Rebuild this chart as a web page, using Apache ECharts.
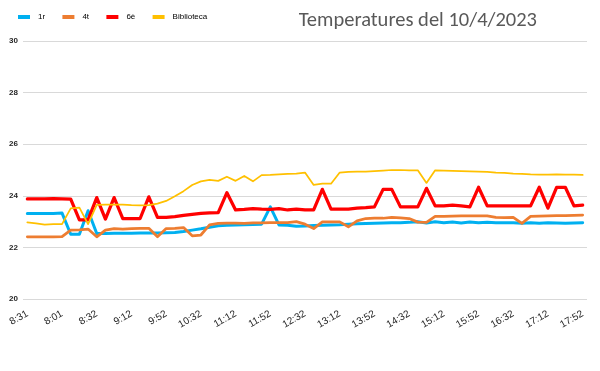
<!DOCTYPE html>
<html>
<head>
<meta charset="utf-8">
<script src="https://cdn.jsdelivr.net/npm/echarts@6/dist/echarts.min.js"></script>
<style>
html,body{margin:0;padding:0;background:#fff;}
#chart{width:600px;height:371px;}
</style>
</head>
<body>
<div id="chart"></div>
<script>
var titleText = "Temperatures del 10/4/2023";
var seriesNames = ["1r", "4t", "6è", "Biblioteca"];
var seriesColors = ["#00B0F0", "#ED7D31", "#FF0000", "#FFC000"];

var categories = ["8:31","7:41","7:48","7:54","8:01","8:09","8:17","8:24","8:32","8:42","8:52","9:02","9:12","9:22","9:32","9:42","9:52","10:02","10:12","10:22","10:32","10:42","10:52","11:02","11:12","11:22","11:32","11:42","11:52","12:02","12:12","12:22","12:32","12:42","12:52","13:02","13:12","13:22","13:32","13:42","13:52","14:02","14:12","14:22","14:32","14:42","14:52","15:02","15:12","15:22","15:32","15:42","15:52","16:02","16:12","16:22","16:32","16:42","16:52","17:02","17:12","17:22","17:32","17:42","17:52"];

var values1r = [23.31,23.31,23.31,23.31,23.33,22.51,22.51,23.42,22.54,22.54,22.55,22.55,22.55,22.56,22.56,22.56,22.57,22.58,22.62,22.67,22.72,22.78,22.84,22.86,22.87,22.88,22.89,22.90,23.57,22.87,22.86,22.82,22.83,22.85,22.86,22.87,22.88,22.90,22.92,22.93,22.94,22.95,22.96,22.96,22.97,22.99,22.95,22.99,22.96,22.98,22.95,22.98,22.96,22.97,22.96,22.96,22.96,22.94,22.96,22.94,22.96,22.95,22.94,22.95,22.96];

var values4t = [22.41,22.41,22.41,22.41,22.42,22.67,22.68,22.71,22.41,22.67,22.73,22.71,22.73,22.74,22.74,22.41,22.73,22.74,22.77,22.45,22.48,22.87,22.93,22.94,22.94,22.93,22.95,22.95,22.96,22.96,22.96,23.00,22.90,22.73,22.99,22.99,22.99,22.80,23.03,23.12,23.13,23.13,23.16,23.14,23.12,22.98,22.97,23.20,23.20,23.21,23.22,23.22,23.22,23.22,23.16,23.15,23.16,22.93,23.20,23.21,23.22,23.23,23.23,23.24,23.25];

var values6e = [23.88,23.88,23.88,23.89,23.88,23.87,23.07,23.07,23.93,23.10,23.93,23.12,23.12,23.12,23.96,23.16,23.16,23.19,23.24,23.28,23.32,23.34,23.35,24.12,23.45,23.47,23.50,23.48,23.47,23.50,23.45,23.48,23.45,23.45,24.25,23.48,23.48,23.48,23.52,23.54,23.57,24.25,24.25,23.57,23.57,23.57,24.29,23.61,23.61,23.64,23.61,23.57,24.33,23.61,23.61,23.61,23.61,23.61,23.61,24.33,23.52,24.33,24.33,23.61,23.64];

var valuesBib = [22.97,22.93,22.88,22.90,22.90,23.51,23.54,22.90,23.65,23.66,23.66,23.66,23.64,23.63,23.64,23.70,23.80,23.98,24.18,24.42,24.56,24.62,24.58,24.74,24.58,24.77,24.56,24.80,24.81,24.83,24.85,24.86,24.90,24.42,24.47,24.47,24.90,24.93,24.94,24.94,24.96,24.98,25.00,25.00,24.99,24.99,24.50,24.99,24.98,24.97,24.96,24.95,24.94,24.93,24.90,24.89,24.86,24.85,24.83,24.82,24.82,24.83,24.82,24.82,24.81];

var yMin = 20, yMax = 30, yStep = 2;

var allValues = [values1r, values4t, values6e, valuesBib];
var widths = [3, 2.75, 3.25, 1.75];

var chart = echarts.init(document.getElementById('chart'), null, {renderer: 'canvas'});
var series = seriesNames.map(function (n, k) {
  return {
    name: n,
    type: 'line',
    data: allValues[k],
    symbol: 'none',
    smooth: false,
    animation: false,
    lineStyle: {color: seriesColors[k], width: widths[k], join: 'round', cap: 'round'},
    itemStyle: {color: seriesColors[k]}
  };
});

chart.setOption({
  animation: false,
  backgroundColor: '#fff',
  title: {
    text: titleText,
    right: 58,
    top: 5,
    textStyle: {fontFamily: 'Carlito, Lato, sans-serif', fontSize: 20.5, fontWeight: 'normal', color: '#595959'}
  },
  legend: {
    left: 18,
    top: 13,
    padding: 0,
    icon: 'rect',
    itemWidth: 12,
    itemHeight: 4,
    itemGap: 17.3,
    textStyle: {fontFamily: 'Liberation Sans, Arial, sans-serif', fontSize: 8, color: '#000', padding: [0, 0, 0, 3]},
    data: seriesNames
  },
  grid: {left: 23, right: 13, top: 41, bottom: 72, containLabel: false},
  xAxis: {
    type: 'category',
    data: categories,
    boundaryGap: true,
    axisLine: {show: false},
    axisTick: {show: false},
    axisLabel: {interval: 3, rotate: 30, margin: 14, fontFamily: 'Liberation Sans, Arial, sans-serif', fontSize: 10, color: '#262626'}
  },
  yAxis: {
    type: 'value',
    min: yMin,
    max: yMax,
    interval: yStep,
    axisLine: {show: false},
    axisTick: {show: false},
    axisLabel: {margin: 5, fontFamily: 'Liberation Sans, Arial, sans-serif', fontSize: 8, fontWeight: 'bold', color: '#262626'},
    splitLine: {lineStyle: {color: '#d9d9d9', width: 1}}
  },
  series: series
});
</script>
</body>
</html>
